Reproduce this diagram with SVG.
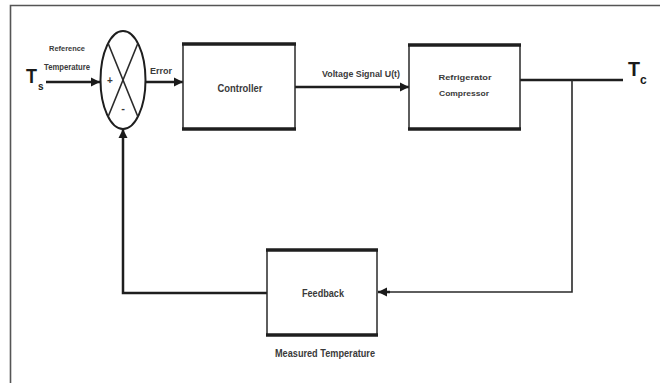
<svg xmlns="http://www.w3.org/2000/svg" width="660" height="383" viewBox="0 0 660 383">
<defs>
<marker id="ah" viewBox="0 0 10 10" refX="10" refY="5" markerWidth="9" markerHeight="10" markerUnits="userSpaceOnUse" orient="auto">
<path d="M0,0 L10,5 L0,10 Z" fill="#1a1a1a"/>
</marker>
</defs>
<style>
.ln{stroke:#1e1e1e;stroke-width:2.5;fill:none}
.thin{stroke:#2a2a2a;stroke-width:1.6;fill:none}
.box{fill:#fff;stroke:#2a2a2a;stroke-width:1.5}
.edge{stroke:#1e1e1e;stroke-width:3.5}
.t{font-family:"Liberation Sans",Arial,sans-serif;fill:#3a3a3a;text-anchor:middle;dominant-baseline:central;font-weight:bold}
.big{font-family:"Liberation Sans",Arial,sans-serif;fill:#1a1a1a;font-weight:bold}
</style>
<rect width="660" height="383" fill="#fff"/>
<path d="M10.5,383 V5.5 H660" stroke="#555" stroke-width="1.6" fill="none"/>

<g id="connectors">
<line class="ln" x1="46" y1="82" x2="100" y2="82" marker-end="url(#ah)"/>
<line class="ln" x1="146" y1="82" x2="183" y2="82" marker-end="url(#ah)"/>
<line class="ln" x1="295" y1="87" x2="409" y2="87" marker-end="url(#ah)"/>
<line class="ln" x1="520" y1="80" x2="623" y2="80"/>
<polyline class="thin" points="572,80 572,292 378,292" />
<line class="ln" x1="390" y1="292" x2="378" y2="292" marker-end="url(#ah)"/>
<polyline class="ln" points="267,293 123,293 123,129" marker-end="url(#ah)"/>
</g>

<g id="summing-junction">
<ellipse cx="123" cy="80" rx="22.5" ry="49" fill="#fff" stroke="#1e1e1e" stroke-width="2"/>
<line class="thin" x1="108" y1="43" x2="138" y2="117"/>
<line class="thin" x1="138" y1="43" x2="108" y2="117"/>
<text class="t" x="110" y="80" font-size="10">+</text>
<text class="t" x="123" y="108" font-size="11">-</text>
</g>

<g id="input-ts">
<text class="big" x="26" y="83" font-size="20" textLength="11" lengthAdjust="spacingAndGlyphs">T</text>
<text class="big" x="38" y="90" font-size="10">s</text>
<text class="t" x="67" y="48" font-size="8" textLength="36" lengthAdjust="spacingAndGlyphs">Reference</text>
<text class="t" x="67" y="67" font-size="8.5" textLength="46" lengthAdjust="spacingAndGlyphs">Temperature</text>
</g>

<g id="error-label">
<text class="t" x="161" y="71" font-size="9" textLength="22" lengthAdjust="spacingAndGlyphs">Error</text>
</g>

<g id="controller">
<rect class="box" x="183" y="44" width="112" height="85"/>
<line class="edge" x1="182" y1="44" x2="296" y2="44"/>
<line class="edge" x1="182" y1="129" x2="296" y2="129"/>
<text class="t" x="240" y="88" font-size="10.5" textLength="45" lengthAdjust="spacingAndGlyphs">Controller</text>
</g>

<g id="voltage-label">
<text class="t" x="361" y="73" font-size="9.5" textLength="78" lengthAdjust="spacingAndGlyphs">Voltage Signal U(t)</text>
</g>

<g id="compressor">
<rect class="box" x="409" y="45" width="111" height="84"/>
<line class="edge" x1="408" y1="45" x2="521" y2="45"/>
<line class="edge" x1="408" y1="129" x2="521" y2="129"/>
<text class="t" x="465" y="77" font-size="8" textLength="53" lengthAdjust="spacingAndGlyphs">Refrigerator</text>
<text class="t" x="464" y="93" font-size="8" textLength="50" lengthAdjust="spacingAndGlyphs">Compressor</text>
</g>

<g id="output-tc">
<text class="big" x="628" y="76" font-size="21" textLength="12" lengthAdjust="spacingAndGlyphs">T</text>
<text class="big" x="640" y="84" font-size="12">c</text>
</g>

<g id="feedback">
<rect class="box" x="267" y="250" width="110" height="85"/>
<line class="edge" x1="266" y1="250" x2="378" y2="250"/>
<line class="edge" x1="266" y1="335" x2="378" y2="335"/>
<text class="t" x="323" y="293" font-size="10.5" textLength="42" lengthAdjust="spacingAndGlyphs">Feedback</text>
<text class="t" x="325" y="353" font-size="10" textLength="100" lengthAdjust="spacingAndGlyphs">Measured Temperature</text>
</g>
</svg>
